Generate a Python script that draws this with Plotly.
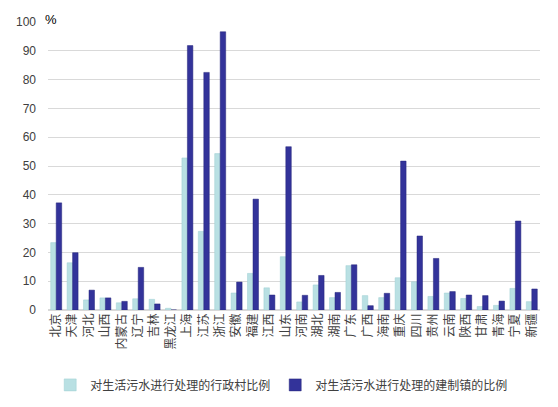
import plotly.graph_objects as go

# Provinces (x-axis categories)
provinces = ["北京", "天津", "河北", "山西", "内蒙古", "辽宁", "吉林", "黑龙江", "上海", "江苏",
             "浙江", "安徽", "福建", "江西", "山东", "河南", "湖北", "湖南", "广东", "广西",
             "海南", "重庆", "四川", "贵州", "云南", "陕西", "甘肃", "青海", "宁夏", "新疆"]

# Share of administrative villages treating domestic sewage (%)
village_ratio = [23.4, 16.4, 3.5, 4.2, 2.5, 3.9, 3.7, 0.6, 52.8, 27.3,
                 54.3, 5.9, 12.7, 7.7, 18.5, 2.8, 8.7, 4.3, 15.4, 5.0,
                 4.3, 11.2, 9.8, 4.7, 5.9, 4.0, 1.2, 1.6, 7.5, 2.9]

# Share of organic towns treating domestic sewage (%)
town_ratio = [37.2, 19.9, 6.9, 4.2, 3.0, 14.8, 2.1, 0.0, 91.8, 82.5,
              96.6, 9.7, 38.5, 5.2, 56.7, 5.1, 12.0, 6.1, 15.7, 1.5,
              5.8, 51.7, 25.7, 17.9, 6.4, 5.2, 5.0, 3.1, 30.9, 7.3]

y_ticks = list(range(0, 101, 10))

font_family = "Liberation Sans, Noto Sans CJK SC"

fig = go.Figure()

# Light bars: villages
fig.add_trace(go.Bar(x=provinces, y=village_ratio, name="对生活污水进行处理的行政村比例",
                     marker=dict(color="#b9e0e3", line=dict(color="#9ccfd3", width=0.5))))

# Dark bars: towns
fig.add_trace(go.Bar(x=provinces, y=town_ratio, name="对生活污水进行处理的建制镇的比例",
                     marker=dict(color="#33339a", line=dict(color="#24247a", width=0.5))))

# Margins account for the page's default 8px body offset
fig.update_layout(
    width=558, height=407,
    margin=dict(l=40, r=26, t=14, b=105),
    paper_bgcolor="white", plot_bgcolor="white",
    font=dict(family=font_family, size=12, color="#404040"),
    barmode="group", bargap=0.33, bargroupgap=0.0,
    showlegend=True,
    legend=dict(orientation="h", x=0.475, xanchor="center", y=-0.26, yanchor="middle",
                font=dict(size=12, color="#404040"), itemwidth=30, traceorder="normal"),
)

fig.update_xaxes(tickangle=-90, showgrid=False, showline=False, ticks="", automargin=False,
                 tickfont=dict(size=12, color="#404040"))
fig.update_yaxes(range=[0, 100], tickvals=y_ticks, showgrid=True, gridcolor="#d9d9d9",
                 gridwidth=1, zeroline=True, zerolinecolor="#d9d9d9", showline=False,
                 ticks="", automargin=False, ticklabelstandoff=11,
                 tickfont=dict(size=12, color="#404040"))

# Unit label beside the top gridline
fig.add_annotation(text="%", xref="paper", yref="paper", x=0.0, y=1.0, xanchor="left",
                   yanchor="middle", xshift=-5, yshift=3, showarrow=False,
                   font=dict(size=13, color="#000000"))

fig.write_html("out.html")
